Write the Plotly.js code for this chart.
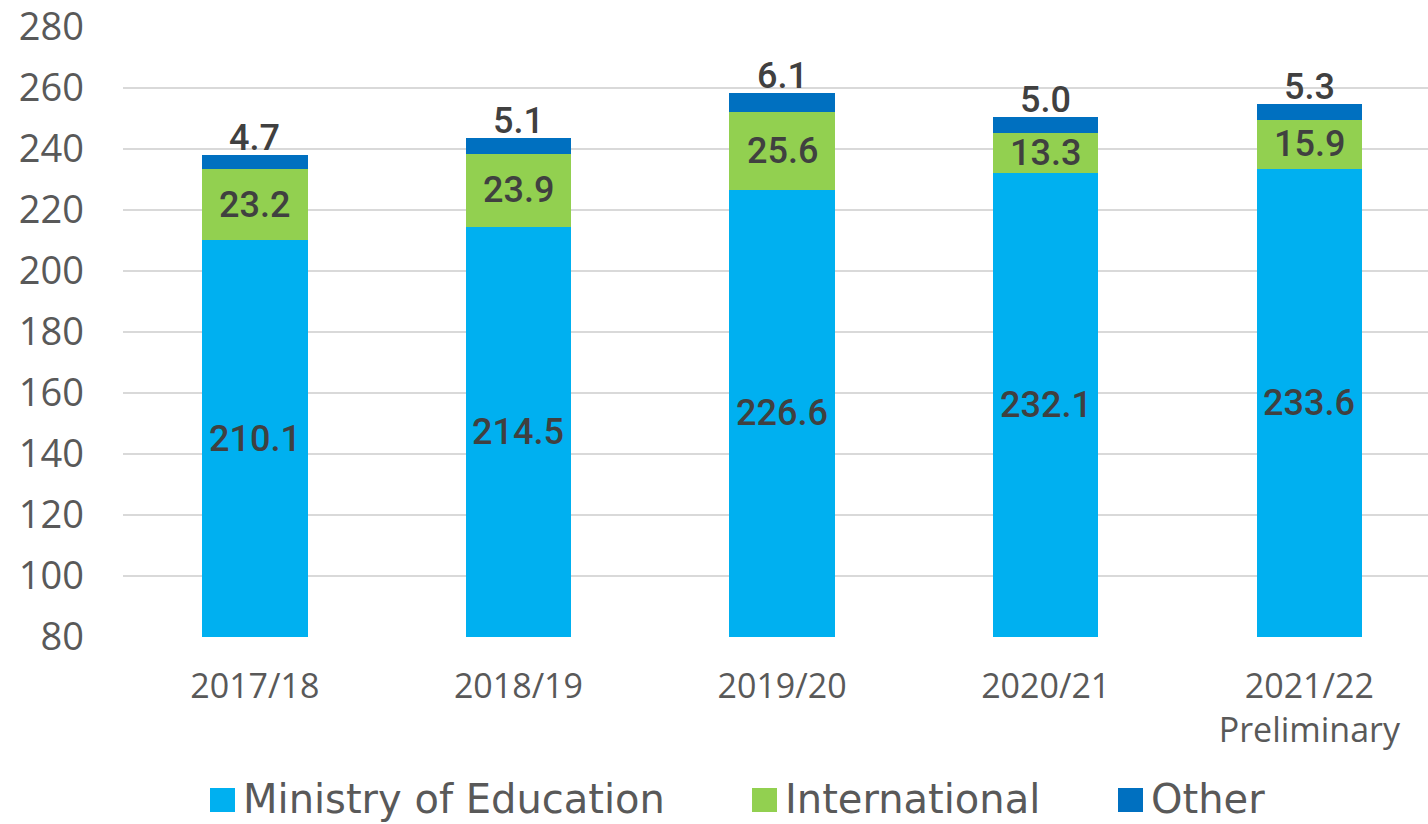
<!DOCTYPE html>
<html><head><meta charset="utf-8">
<script src="https://cdn.plot.ly/plotly-3.0.1.min.js"></script>
<style>html,body{margin:0;padding:0;background:#fff}#chart{width:1428px;height:824px}</style>
</head><body><div id="chart"></div>
<script>
const categories = ["2017/18", "2018/19", "2019/20", "2020/21", "2021/22<br>Preliminary"];
const ministry = [210.1, 214.5, 226.6, 232.1, 233.6];
const international = [23.2, 23.9, 25.6, 13.3, 15.9];
const other = [4.7, 5.1, 6.1, 5.0, 5.3];
const seriesNames = ["Ministry of Education", "International", "Other"];
const colors = ["#00B0F0", "#92D050", "#0070C0"];
const yMin = 80, yMax = 280;

const traces = [ministry, international, other].map((vals, i) => ({
  type: "bar", x: categories, y: vals, name: seriesNames[i],
  marker: {color: colors[i]}, hoverinfo: "skip", showlegend: false
}));

const labelFont = {family: "Roboto, 'Open Sans', sans-serif", size: 36, color: "#404040", weight: 500};
const annotations = [];
categories.forEach((c, k) => {
  annotations.push({x: c, y: (yMin + ministry[k]) / 2, text: ministry[k].toFixed(1), showarrow: false, font: labelFont});
  annotations.push({x: c, y: ministry[k] + international[k] / 2, text: international[k].toFixed(1), showarrow: false, font: labelFont});
  annotations.push({x: c, y: ministry[k] + international[k] + other[k], text: other[k].toFixed(1), showarrow: false, font: labelFont, yanchor: "bottom", yshift: -6});
});

// custom legend (larger squares, like the reference)
const L = 123, W = 1305, B = 637, H = 610;
const px = v => (v - L) / W, py = v => (B - v) / H;
const legendX = [210, 752, 1118];
const shapes = [];
seriesNames.forEach((n, i) => {
  shapes.push({type: "rect", xref: "paper", yref: "paper",
    x0: px(legendX[i]), x1: px(legendX[i] + 25), y0: py(812), y1: py(788),
    fillcolor: colors[i], line: {width: 0}});
  annotations.push({xref: "paper", yref: "paper", x: px(legendX[i] + 31), y: py(799),
    xanchor: "left", yanchor: "middle", showarrow: false, text: n,
    font: {family: "'DejaVu Sans', sans-serif", size: 40, color: "#595959"}});
});

const layout = {
  width: 1428, height: 824,
  margin: {l: L, r: 0, t: 27, b: 824 - B},
  barmode: "stack", bargap: 0.6,
  paper_bgcolor: "#fff", plot_bgcolor: "#fff",
  showlegend: false,
  xaxis: {range: [-0.5, 4.45], showgrid: false, showline: false, ticks: "", ticklabelstandoff: 26,
          tickfont: {family: "'Open Sans', sans-serif", size: 34, color: "#595959"}, fixedrange: true},
  yaxis: {range: [yMin, yMax], dtick: 20, tick0: 0, showgrid: true, gridcolor: "#d9d9d9", gridwidth: 2,
          zeroline: false, showline: false, ticks: "", ticklabelstandoff: 38, ticklabeloverflow: "allow",
          tickfont: {family: "'Open Sans', sans-serif", size: 38, color: "#595959"}, fixedrange: true},
  shapes: shapes,
  annotations: annotations
};
Plotly.newPlot("chart", traces, layout, {displayModeBar: false, staticPlot: true});
</script></body></html>
